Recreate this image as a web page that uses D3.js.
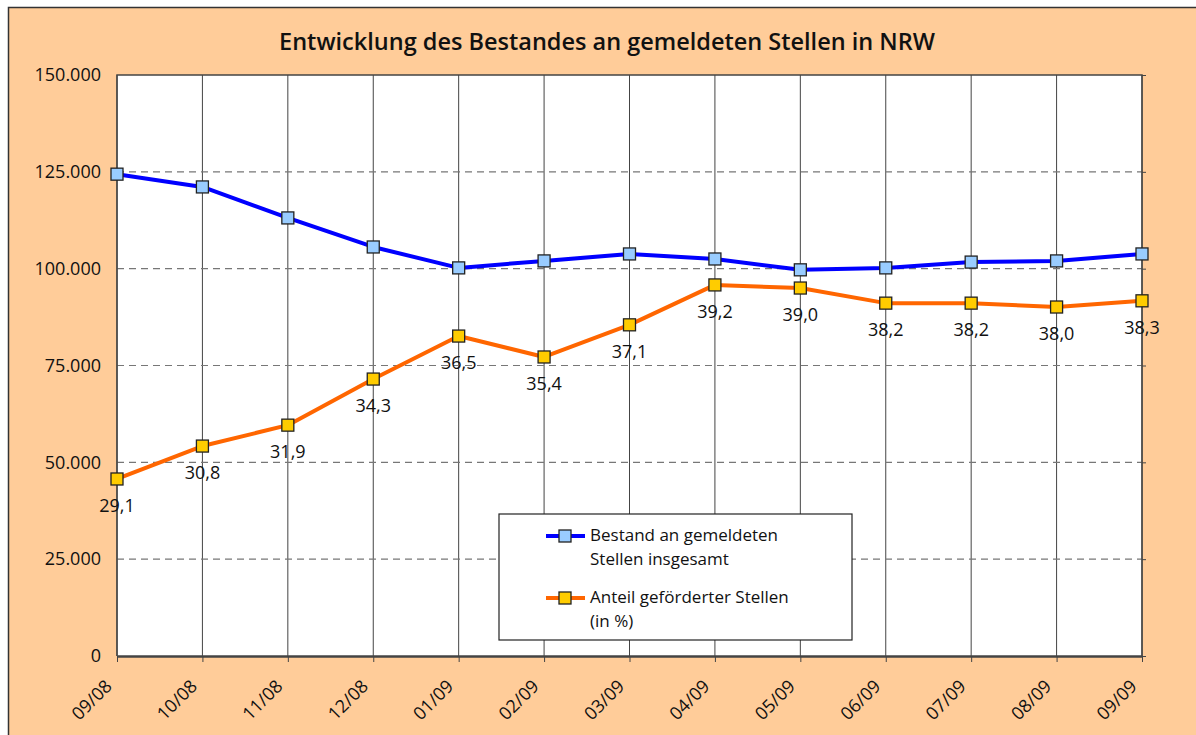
<!DOCTYPE html>
<html>
<head>
<meta charset="utf-8">
<script src="https://cdn.jsdelivr.net/npm/d3@7"></script>
<style>
  body { margin: 0; background: #fff; }
  svg { display: block; font-family: "Open Sans", "Liberation Sans", Arial, sans-serif; }
</style>
</head>
<body>
<svg id="chart" width="1196" height="735"></svg>
<script>
// monthly categories
const months = ["09/08", "10/08", "11/08", "12/08", "01/09", "02/09", "03/09",
                "04/09", "05/09", "06/09", "07/09", "08/09", "09/09"];
// Bestand an gemeldeten Stellen insgesamt
const bestand = [124400, 121100, 113100, 105600, 100200, 102000, 103800,
                 102500, 99700, 100200, 101700, 102000, 103800];
// Anteil geförderter Stellen (plotted on the same axis)
const gefoerdert = [45700, 54200, 59600, 71500, 82600, 77200, 85500,
                    95800, 95000, 91100, 91100, 90100, 91700];
const anteilLabels = ["29,1", "30,8", "31,9", "34,3", "36,5", "35,4", "37,1",
                      "39,2", "39,0", "38,2", "38,2", "38,0", "38,3"];
const yTicks = [0, 25000, 50000, 75000, 100000, 125000, 150000];

const svg = d3.select("#chart");
const W = 1196, H = 735;
const m = {left: 117, top: 75, right: 1142, bottom: 656};
const FONT = "'Open Sans', 'Liberation Sans', Arial, sans-serif";

// peach background with frame
svg.append("rect").attr("x", 8.5).attr("y", 7.5).attr("width", W).attr("height", H)
  .attr("fill", "#FFCC99").attr("stroke", "#333").attr("stroke-width", 1.5);

svg.append("text").attr("x", 607).attr("y", 50).attr("text-anchor", "middle")
  .attr("font-size", 23.5).attr("font-weight", 600).attr("fill", "#111")
  .text("Entwicklung des Bestandes an gemeldeten Stellen in NRW");

const x = d3.scalePoint().domain(months).range([m.left, m.right]);
const y = d3.scaleLinear().domain([0, 150000]).range([m.bottom, m.top]);

svg.append("rect").attr("x", m.left).attr("y", m.top)
  .attr("width", m.right - m.left).attr("height", m.bottom - m.top).attr("fill", "#fff");

// vertical grid
svg.append("g").selectAll("line").data(months).join("line")
  .attr("x1", d => x(d)).attr("x2", d => x(d))
  .attr("y1", m.top).attr("y2", m.bottom)
  .attr("stroke", "#444").attr("stroke-width", 1);

// horizontal dashed grid
svg.append("g").selectAll("line").data(yTicks.slice(1, -1)).join("line")
  .attr("x1", m.left).attr("x2", m.right)
  .attr("y1", d => y(d)).attr("y2", d => y(d))
  .attr("stroke", "#777").attr("stroke-width", 1.2).attr("stroke-dasharray", "7,5");

// frame of the plot
svg.append("path")
  .attr("d", `M${m.left},${m.bottom}V${m.top}H${m.right}V${m.bottom}`)
  .attr("fill", "none").attr("stroke", "#444").attr("stroke-width", 1.5);

const fmt = d => d === 0 ? "0" : d3.format(",")(d).replace(/,/g, ".");

const yAxis = svg.append("g").attr("transform", `translate(${m.left},0)`)
  .call(d3.axisLeft(y).tickValues(yTicks).tickSize(0).tickPadding(16).tickFormat(fmt));
yAxis.select(".domain").remove();
yAxis.selectAll("text").attr("font-size", 18).attr("fill", "#111")
  .attr("font-family", FONT);

// small ticks on the right side
svg.append("g").attr("transform", `translate(${m.right},0)`)
  .call(d3.axisRight(y).tickValues(yTicks).tickSize(4).tickFormat(""))
  .call(g => g.select(".domain").remove())
  .selectAll("line").attr("stroke", "#444");

const xAxis = svg.append("g").attr("transform", `translate(0,${m.bottom})`)
  .call(d3.axisBottom(x).tickSize(6).tickSizeOuter(0));
xAxis.select(".domain").attr("stroke", "#444").attr("stroke-width", 2.5);
xAxis.selectAll("line").attr("stroke", "#444");
xAxis.selectAll("text")
  .attr("font-size", 18).attr("fill", "#111")
  .attr("font-family", FONT)
  .attr("text-anchor", "end")
  .attr("x", 0).attr("y", 0)
  .attr("dy", "0.35em")
  .attr("transform", "translate(-9,27) rotate(-45)");

const line = d3.line().x((d, i) => x(months[i])).y(d => y(d));

function series(vals, color, fill) {
  svg.append("path").datum(vals).attr("d", line)
    .attr("fill", "none").attr("stroke", color).attr("stroke-width", 4)
    .attr("stroke-linejoin", "round");
  svg.append("g").selectAll("rect").data(vals).join("rect")
    .attr("x", (d, i) => x(months[i]) - 6).attr("y", d => y(d) - 6)
    .attr("width", 12).attr("height", 12)
    .attr("fill", fill).attr("stroke", "#222").attr("stroke-width", 1.3);
}
series(bestand, "#0000FF", "#99CCFF");
series(gefoerdert, "#FF6600", "#FFCC00");

svg.append("g").selectAll("text").data(gefoerdert).join("text")
  .attr("x", (d, i) => x(months[i])).attr("y", d => y(d) + 33)
  .attr("text-anchor", "middle").attr("font-size", 18).attr("fill", "#111")
  .text((d, i) => anteilLabels[i]);

// legend
const lg = svg.append("g").attr("transform", "translate(499,514)");
lg.append("rect").attr("width", 353).attr("height", 126)
  .attr("fill", "#fff").attr("stroke", "#222").attr("stroke-width", 1.2);
const items = [
  {color: "#0000FF", fill: "#99CCFF", lines: ["Bestand an gemeldeten", "Stellen insgesamt"], y: 22},
  {color: "#FF6600", fill: "#FFCC00", lines: ["Anteil geförderter Stellen", "(in %)"], y: 84}
];
items.forEach(it => {
  lg.append("line").attr("x1", 47).attr("x2", 86).attr("y1", it.y).attr("y2", it.y)
    .attr("stroke", it.color).attr("stroke-width", 4);
  lg.append("rect").attr("x", 60).attr("y", it.y - 6).attr("width", 12).attr("height", 12)
    .attr("fill", it.fill).attr("stroke", "#222").attr("stroke-width", 1.3);
  it.lines.forEach((t, k) => {
    lg.append("text").attr("x", 91).attr("y", it.y + 5 + k * 23.5)
      .attr("font-size", 17).attr("fill", "#111").text(t);
  });
});
</script>
</body>
</html>
